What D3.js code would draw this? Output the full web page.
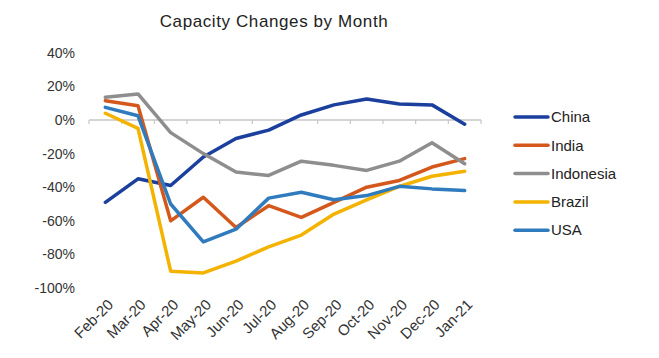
<!DOCTYPE html>
<html>
<head>
<meta charset="utf-8">
<script src="https://cdn.jsdelivr.net/npm/d3@7"></script>
<style>
  body { margin: 0; background: #fff; }
  svg { font-family: "Liberation Sans", Arial, sans-serif; }
</style>
</head>
<body>
<div class="js-chart"></div>
<script>
// months on the x axis
var months = ['Feb-20', 'Mar-20', 'Apr-20', 'May-20', 'Jun-20', 'Jul-20',
  'Aug-20', 'Sep-20', 'Oct-20', 'Nov-20', 'Dec-20', 'Jan-21'];

// capacity change in percent
var china = [-49, -35, -39, -22, -11, -6, 3, 9, 12.5, 9.5, 9, -2.5];
var india = [11.5, 8.5, -60, -46, -64, -51, -58, -49, -40, -36, -28, -23];
var indonesia = [13.5, 15.5, -7.5, -20, -31, -33, -24.5, -27, -30, -24.5, -13.5, -26];
var brazil = [4, -5, -90, -91, -84, -75.5, -68.5, -56, -47.5, -39.5, -33.5, -30.5];
var usa = [7.5, 2.5, -50, -72.5, -65, -46.5, -43, -47.5, -45, -39.5, -41, -42];

var seriesNames = ['China', 'India', 'Indonesia', 'Brazil', 'USA'];
var yTicks = [40, 20, 0, -20, -40, -60, -80, -100];

var colors = ['#1b3f9c', '#d4581c', '#8e8e8e', '#f3b300', '#2f7bbd'];
var series = [china, india, indonesia, brazil, usa];

var width = 659;
var height = 358;

var svg = d3.select('.js-chart')
  .append('svg')
  .attr('width', width)
  .attr('height', height);

var x = d3.scaleBand().domain(months).range([89, 481]);
var y = d3.scaleLinear().domain([-100, 40]).range([288, 52.8]);

// title
svg.append('text')
  .attr('x', 274)
  .attr('y', 27)
  .attr('text-anchor', 'middle')
  .style('font-size', '17px')
  .style('letter-spacing', '0.6px')
  .attr('fill', '#222')
  .text('Capacity Changes by Month');

// y axis labels, no line
svg.append('g')
  .selectAll('text')
  .data(yTicks)
  .enter()
  .append('text')
  .attr('x', 75)
  .attr('y', (d) => y(d))
  .attr('dy', '0.35em')
  .attr('text-anchor', 'end')
  .style('font-size', '14px')
  .attr('fill', '#333')
  .text((d) => d + '%');

// zero line with tick marks between the months
var zero = svg.append('g');
zero.append('line')
  .attr('x1', x.range()[0])
  .attr('x2', x.range()[1])
  .attr('y1', y(0))
  .attr('y2', y(0))
  .attr('stroke', '#c6c6c6')
  .attr('stroke-width', 1.5);

zero.selectAll('.tick')
  .data(d3.range(months.length + 1))
  .enter()
  .append('line')
  .attr('x1', (d) => x.range()[0] + d * x.step())
  .attr('x2', (d) => x.range()[0] + d * x.step())
  .attr('y1', y(0))
  .attr('y2', y(0) + 4)
  .attr('stroke', '#c6c6c6')
  .attr('stroke-width', 1.2);

// month labels, rotated
svg.append('g')
  .selectAll('text')
  .data(months)
  .enter()
  .append('text')
  .attr('transform', (d) => `translate(${x(d) + x.bandwidth() / 2 + 5},${y(-100) + 14})rotate(-45)`)
  .attr('text-anchor', 'end')
  .attr('dy', '0.35em')
  .style('font-size', '15px')
  .attr('fill', '#333')
  .text((d) => d);

// the lines
var line = d3.line()
  .x((d, i) => x(months[i]) + x.bandwidth() / 2)
  .y((d) => y(d));

svg.append('g')
  .selectAll('path')
  .data(series)
  .enter()
  .append('path')
  .attr('d', (d) => line(d))
  .attr('fill', 'none')
  .attr('stroke', (d, i) => colors[i])
  .attr('stroke-width', 3.5)
  .attr('stroke-linejoin', 'round')
  .attr('stroke-linecap', 'round');

// legend
var legend = svg.append('g')
  .selectAll('g')
  .data(seriesNames)
  .enter()
  .append('g')
  .attr('transform', (d, i) => `translate(515,${117 + i * 28.3})`);

legend.append('line')
  .attr('x1', 0)
  .attr('x2', 33)
  .attr('stroke', (d, i) => colors[i])
  .attr('stroke-width', 3.5)
  .attr('stroke-linecap', 'round');

legend.append('text')
  .attr('x', 36)
  .attr('dy', '0.35em')
  .style('font-size', '15px')
  .attr('fill', '#222')
  .text((d) => d);
</script>
</body>
</html>
